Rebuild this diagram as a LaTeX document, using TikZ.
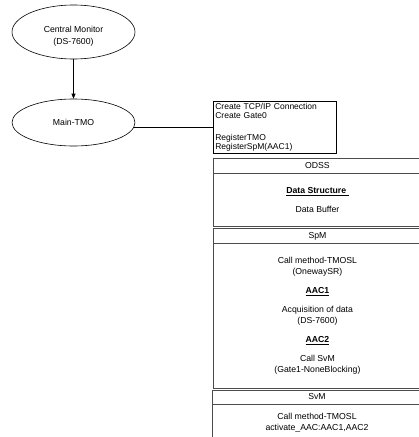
\documentclass[tikz,border=0pt]{standalone}
\usepackage{fontspec}
\setmainfont{Liberation Sans}
\usetikzlibrary{shapes.geometric,arrows.meta}
\tikzset{
  oval/.style={ellipse, draw=black, line width=0.6pt, minimum width=123pt, inner sep=0pt},
  txt/.style={align=center, inner sep=0pt},
  panel/.style={draw=black!70, line width=0.9pt},
  hdr/.style={panel, rectangle, minimum width=208pt, minimum height=15pt, inner sep=0pt, anchor=north west},
  note/.style={draw=black, line width=0.7pt, rectangle, anchor=north west, minimum width=123pt, minimum height=52pt, text width=119pt, align=left, inner xsep=2pt, inner ysep=0pt, font=\fontsize{8.5}{9.5}\selectfont},
  link/.style={draw=black, line width=0.6pt}
}
\begin{document}
\begin{tikzpicture}[x=1pt,y=-1pt, font=\fontsize{8.7}{11}\selectfont]
\useasboundingbox[fill=white] (0,0) rectangle (419,437);
% ellipses
\node[oval, minimum height=54pt] (cm) at (73.5,32) {};
\node[txt, font=\fontsize{8.7}{12.5}\selectfont] (cmt) at (73.5,36) {Central Monitor\\(DS-7600)};
\node[oval, minimum height=47pt] (tmo) at (73.5,122.5) {};
\node[txt] (tmot) at (73.5,122.5) {Main-TMO};
\draw[link, -{Triangle[length=5pt,width=4pt]}] (cm.south) -- (tmo.north);
% note box
\node[note] (tb) at (213,101) {Create TCP/IP Connection\\Create Gate0\\[12pt]RegisterTMO\\RegisterSpM(AAC1)};
\draw[link] (tmo.-5) -- (tmo.-5 -| tb.west);
% ODSS
\node[hdr] (odssh) at (213,158) {ODSS};
\node[hdr, minimum height=53pt] (odssb) at (213,173) {};
\node[txt] (odsst) at (odssb.center) {\underline{\textbf{Data Structure\ }}\\[8pt]Data Buffer};
% SpM
\node[hdr] (spmh) at (213,228) {SpM};
\node[hdr, minimum height=145pt] (spmb) at (213,243) {};
\node[txt] (spmt) at (spmb.center) {Call method-TMOSL\\(OnewaySR)\\[8pt]\underline{\textbf{AAC1}}\\[8pt]Acquisition of data\\(DS-7600)\\[8pt]\underline{\textbf{AAC2}}\\[8pt]Call SvM\\(Gate1-NoneBlocking)};
% SvM
\node[hdr, minimum width=209pt, minimum height=14pt] (svmh) at (212,389.5) {SvM};
\node[hdr, minimum width=209pt, minimum height=50pt] (svmb) at (212,403.5) {};
\node[txt] (svmt) at (317,422.5) {Call method-TMOSL\\activate\_AAC:AAC1,AAC2};
\end{tikzpicture}
\end{document}
